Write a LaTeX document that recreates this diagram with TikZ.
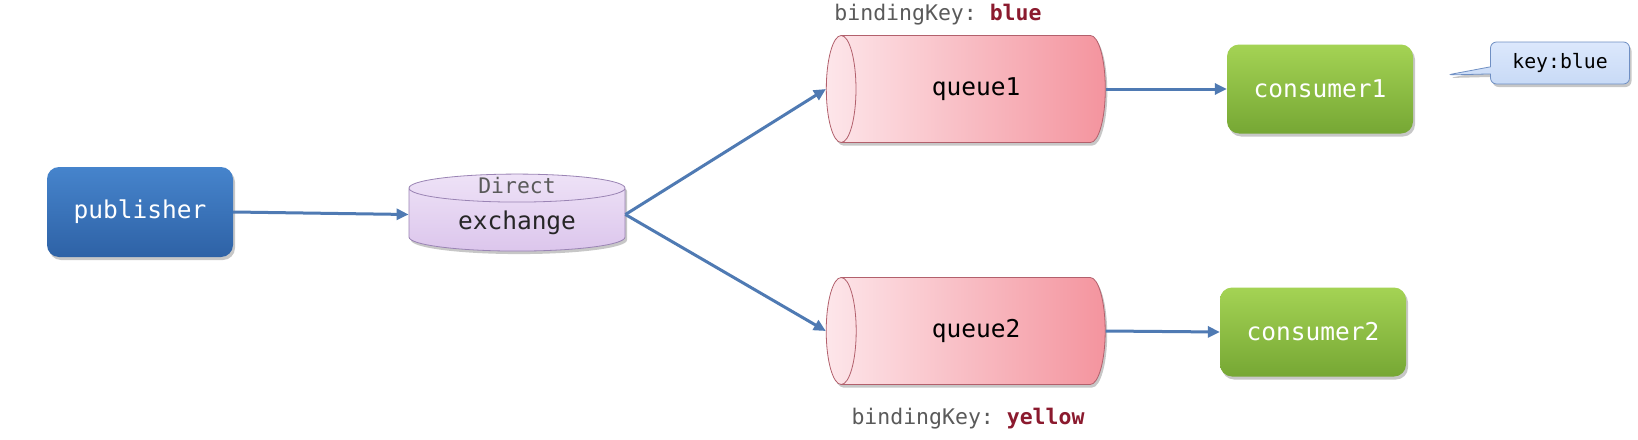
\documentclass[tikz,border=0pt]{standalone}
\usepackage{fontspec}
\setmonofont{DejaVu Sans Mono}
\usetikzlibrary{shapes.geometric,shapes.callouts,arrows.meta,shadows}
\definecolor{arrowc}{HTML}{4F7AB3}
\definecolor{pubtop}{HTML}{4684CC}
\definecolor{pubbot}{HTML}{2E62A6}
\definecolor{extop}{HTML}{EEE2F7}
\definecolor{exbot}{HTML}{DCC6EC}
\definecolor{exline}{HTML}{9A84B4}
\definecolor{qleft}{HTML}{FDE6EA}
\definecolor{qright}{HTML}{F4949E}
\definecolor{qline}{HTML}{B2606C}
\definecolor{contop}{HTML}{A4D354}
\definecolor{conbot}{HTML}{76A734}
\definecolor{calltop}{HTML}{DCE8FC}
\definecolor{callbot}{HTML}{C8DAF6}
\definecolor{callline}{HTML}{6F8FC3}
\definecolor{keygray}{HTML}{5A5A5A}
\definecolor{keyred}{HTML}{8B1A2E}
\begin{document}
\begin{tikzpicture}[x=1pt,y=-1pt,
  sh/.style={drop shadow={shadow xshift=2pt,shadow yshift=-3pt,opacity=.22,fill=black}},
  conn/.style={draw=arrowc,line width=3pt,-{Triangle[length=12pt,width=11pt]}},
  pubbox/.style={rectangle,rounded corners=12pt,top color=pubtop,bottom color=pubbot,
    minimum width=186pt,minimum height=90pt,text=white,sh,
    font=\ttfamily\fontsize{24.5}{28}\selectfont},
  conbox/.style={rectangle,rounded corners=12pt,top color=contop,bottom color=conbot,
    minimum width=186pt,minimum height=89pt,text=white,sh,
    font=\ttfamily\fontsize{24.5}{28}\selectfont},
  queuebox/.style={cylinder,shape border rotate=180,aspect=1.0,draw=qline,line width=0.8pt,
    left color=qleft,right color=qright,minimum width=107pt,minimum height=279pt,sh,
    font=\ttfamily\fontsize{24.5}{28}\selectfont,text=black},
  exbox/.style={cylinder,shape border rotate=90,aspect=4.2,draw=exline,line width=0.8pt,
    top color=extop,bottom color=exbot,minimum width=216pt,minimum height=77pt,sh},
  calloutbox/.style={rectangle callout,rounded corners=6pt,draw=callline,line width=0.8pt,
    top color=calltop,bottom color=callbot,minimum width=139pt,minimum height=42pt,
    font=\ttfamily\fontsize{19.8}{24}\selectfont,text=black,sh},
  keytext/.style={font=\ttfamily\fontsize{21.5}{26}\selectfont,text=keygray}
]
\useasboundingbox (0,0) rectangle (1638,439);
\fill[white] (0,0) rectangle (1638,439);

\node[pubbox] (pub) at (140,212) {publisher};
\node[exbox] (ex) at (517,221.5) {};
\coordinate (exin) at ([yshift=7pt]ex.west);
\coordinate (exout) at ([yshift=7pt]ex.east);
\node[font=\ttfamily\fontsize{21.4}{26}\selectfont,text=keygray] (exdirect) at (517,186) {Direct};
\node[font=\ttfamily\fontsize{24.5}{28}\selectfont,text=black!85] (exname) at (517,223) {exchange};

\node[queuebox] (q1) at (976,89) {queue1};
\node[queuebox] (q2) at (976,331) {queue2};

\node[conbox] (c1) at (1320,89) {consumer1};
\node[conbox] (c2) at (1313,332) {consumer2};

\node[calloutbox,callout absolute pointer={(1447,75)}] (call) at (1560,63) {key:blue};

\node[keytext] (bk1) at (938,15) {bindingKey: \textbf{\textcolor{keyred}{blue}}};
\node[keytext] (bk2) at (968,419) {bindingKey: \textbf{\textcolor{keyred}{yellow}}};

\draw[conn] (pub.east) -- (exin);
\draw[conn] (exout) -- (q1.west);
\draw[conn] (exout) -- (q2.west);
\draw[conn] (q1.east) -- (c1.west);
\draw[conn] (q2.east) -- (c2.west);
\end{tikzpicture}
\end{document}
